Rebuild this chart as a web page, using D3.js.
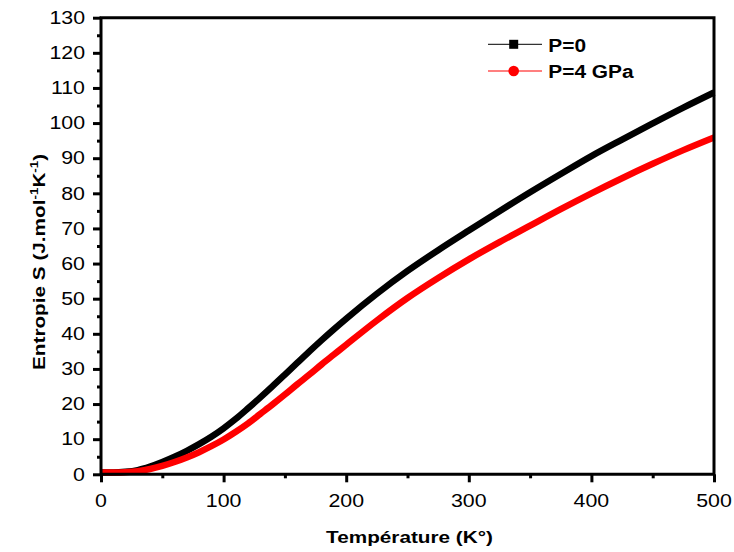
<!DOCTYPE html>
<html>
<head>
<meta charset="utf-8">
<script src="https://cdn.jsdelivr.net/npm/d3@7"></script>
<style>
  html, body { margin: 0; padding: 0; background: #fff; }
  svg { display: block; font-family: Arial, "Liberation Sans", sans-serif; }
</style>
</head>
<body>
<svg id="chart" width="734" height="552"></svg>
<script>
// ---- data ----
const temperature = [0, 10, 20, 30, 40, 50, 60, 70, 80, 90, 100, 110, 120, 130, 140, 150, 160, 170, 180, 190, 200,
                     225, 250, 275, 300, 325, 350, 375, 400, 425, 450, 475, 500];
const entropyP0   = [0.5, 0.5, 0.7, 1.2, 2.2, 3.5, 5.0, 6.7, 8.6, 10.7, 13.1, 15.8, 18.8, 21.9, 25.1, 28.4, 31.7, 35.0, 38.2, 41.3, 44.3,
                     51.4, 57.9, 63.8, 69.4, 74.9, 80.3, 85.5, 90.6, 95.3, 99.9, 104.4, 108.7];
const entropyP4   = [0.5, 0.5, 0.6, 0.9, 1.5, 2.4, 3.5, 4.8, 6.3, 8.0, 9.9, 12.1, 14.5, 17.2, 19.9, 22.7, 25.6, 28.4, 31.3, 34.1, 36.9,
                     43.8, 50.2, 55.9, 61.2, 66.1, 70.8, 75.5, 80.0, 84.3, 88.4, 92.3, 95.9];
const seriesNames = ["P=0", "P=4 GPa"];
const seriesColors = ["#000000", "#ff0000"];
const xTicks = [0, 100, 200, 300, 400, 500];
const xMinor = [50, 150, 250, 350, 450];
const yTicks = [0, 10, 20, 30, 40, 50, 60, 70, 80, 90, 100, 110, 120, 130];
const yMinor = [5, 15, 25, 35, 45, 55, 65, 75, 85, 95, 105, 115, 125];

const svg = d3.select("#chart");
const L = 101, R = 714, T = 17.7, B = 474.3;
const SX = 1.22; // horizontal stretch of the reference's text

const x = d3.scaleLinear().domain([0, 500]).range([L, R]);
const y = d3.scaleLinear().domain([0, 130]).range([B, T]);

// curves
const line = d3.line().x(d => x(d[0])).y(d => y(d[1])).curve(d3.curveMonotoneX);
[entropyP0, entropyP4].forEach((vals, i) => {
  svg.append("path")
    .datum(temperature.map((t, k) => [t, vals[k]]))
    .attr("fill", "none")
    .attr("stroke", seriesColors[i])
    .attr("stroke-width", 6.5)
    .attr("stroke-linejoin", "round")
    .attr("d", line);
});

// frame
svg.append("path")
  .attr("d", `M${L},${B}V${T}H${R}V${B}Z`)
  .attr("fill", "none").attr("stroke", "#000").attr("stroke-width", 3);

function ticksOnly(g) {
  g.select(".domain").remove();
  g.selectAll(".tick line").attr("stroke-width", 3).attr("stroke", "#000");
}

// x axis
svg.append("g").attr("transform", `translate(0,${B})`)
  .call(d3.axisBottom(x).tickValues(xTicks).tickSize(8).tickFormat(""))
  .call(ticksOnly);
svg.append("g").attr("transform", `translate(0,${B})`)
  .call(d3.axisBottom(x).tickValues(xMinor).tickSize(4).tickFormat(""))
  .call(ticksOnly);
svg.append("g").selectAll("text").data(xTicks).join("text")
  .attr("transform", d => `translate(${x(d)},507) scale(${SX},1)`)
  .attr("text-anchor", "middle")
  .attr("font-size", 17.5)
  .text(d => d3.format("d")(d));

// y axis
svg.append("g").attr("transform", `translate(${L},0)`)
  .call(d3.axisLeft(y).tickValues(yTicks).tickSize(8).tickFormat(""))
  .call(ticksOnly);
svg.append("g").attr("transform", `translate(${L},0)`)
  .call(d3.axisLeft(y).tickValues(yMinor).tickSize(4).tickFormat(""))
  .call(ticksOnly);
svg.append("g").selectAll("text").data(yTicks).join("text")
  .attr("transform", d => `translate(85,${y(d) + 6.3}) scale(${SX},1)`)
  .attr("text-anchor", "end")
  .attr("font-size", 17.5)
  .text(d => d3.format("d")(d));

// axis titles
svg.append("text")
  .attr("transform", `translate(${(L + R) / 2 + 2},543) scale(${SX},1)`)
  .attr("text-anchor", "middle")
  .attr("font-size", 17).attr("font-weight", "bold")
  .text("Température (K°)");

const yt = svg.append("text")
  .attr("transform", `translate(45,370) rotate(-90) scale(${SX},1)`)
  .attr("font-size", 17).attr("font-weight", "bold");
yt.append("tspan").text("Entropie S (J.mol");
yt.append("tspan").attr("font-size", 11).attr("dy", -7).text("-1");
yt.append("tspan").attr("dy", 7).text("K");
yt.append("tspan").attr("font-size", 11).attr("dy", -7).text("-1");
yt.append("tspan").attr("dy", 7).text(")");

// legend
const legY = [44.3, 71];
seriesNames.forEach((name, i) => {
  const g = svg.append("g");
  g.append("line").attr("x1", 488).attr("x2", 542).attr("y1", legY[i]).attr("y2", legY[i])
    .attr("stroke", i === 0 ? "#333" : seriesColors[i]).attr("stroke-width", 1.2);
  if (i === 0) {
    g.append("rect").attr("x", 513.7 - 4.5).attr("y", legY[i] - 4.5).attr("width", 9).attr("height", 9).attr("fill", seriesColors[i]);
  } else {
    g.append("circle").attr("cx", 513.7).attr("cy", legY[i]).attr("r", 5.3).attr("fill", seriesColors[i]);
  }
  g.append("text").attr("transform", `translate(548.3,${legY[i] + 7.2}) scale(1.16,1)`)
    .attr("font-size", 18).attr("font-weight", "bold").text(name);
});
</script>
</body>
</html>
